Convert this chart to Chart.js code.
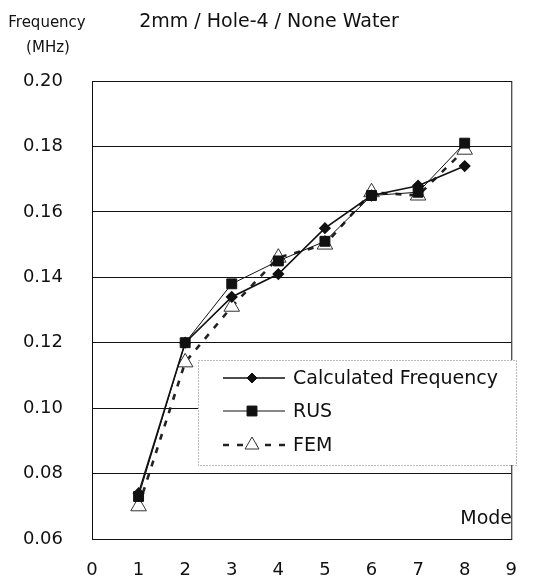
<!DOCTYPE html>
<html>
<head>
<meta charset="utf-8">
<script src="https://cdn.jsdelivr.net/npm/chart.js@4.4.0/dist/chart.umd.min.js"></script>
<style>
  html, body { margin: 0; padding: 0; background: #fff; }
  canvas { display: block; }
</style>
</head>
<body>
<canvas id="chart" width="538" height="584"></canvas>
<script>
/* ── data ─────────────────────────────────────────────── */
const modes      = [1, 2, 3, 4, 5, 6, 7, 8];
const calculated = [0.074, 0.120, 0.134, 0.141, 0.155, 0.165, 0.168, 0.174];
const rus        = [0.073, 0.120, 0.138, 0.145, 0.151, 0.165, 0.166, 0.181];
const fem        = [0.070, 0.114, 0.131, 0.146, 0.150, 0.166, 0.165, 0.179];
const yTicks     = [0.06, 0.08, 0.10, 0.12, 0.14, 0.16, 0.18, 0.20];
const xTicks     = [0, 1, 2, 3, 4, 5, 6, 7, 8, 9];

const FONT = '"DejaVu Sans", sans-serif';
const INK  = '#111';

const toPoints = vals => vals.map((v, i) => ({ x: modes[i], y: v }));

/* ── plot frame + free text ─────────────────────────────── */
const framePlugin = {
  id: 'frame',
  afterDraw(chart) {
    const { ctx, chartArea: a } = chart;
    ctx.save();
    ctx.strokeStyle = INK;
    ctx.lineWidth = 1;
    ctx.strokeRect(a.left + 0.5, a.top + 0.5, a.right - a.left, a.bottom - a.top);

    ctx.fillStyle = INK;
    ctx.textBaseline = 'middle';
    ctx.textAlign = 'center';
    ctx.font = `15px ${FONT}`;
    ctx.fillText('Frequency', 47, 23);
    ctx.fillText('(MHz)', 48, 48);
    ctx.font = `19px ${FONT}`;
    ctx.fillText('2mm / Hole-4 / None Water', 269, 22);
    ctx.textAlign = 'right';
    ctx.fillText('Mode', 512, 519);
    ctx.restore();
  },
};

/* ── legend box inside plot ─────────────────────────────── */
const legendPlugin = {
  id: 'boxLegend',
  afterDraw(chart) {
    const { ctx } = chart;
    const box = { x: 198, y: 360, w: 318, h: 105 };
    const rows = [378, 411, 445];
    ctx.save();
    ctx.fillStyle = '#fff';
    ctx.fillRect(box.x, box.y, box.w, box.h);
    ctx.setLineDash([1, 2]);
    ctx.strokeStyle = '#777';
    ctx.lineWidth = 1;
    ctx.strokeRect(box.x + 0.5, box.y + 0.5, box.w, box.h);

    chart.data.datasets.forEach((ds, i) => {
      const y = rows[i];
      ctx.strokeStyle = ds.borderColor;
      ctx.lineWidth = ds.borderWidth;
      ctx.setLineDash(ds.borderDash || []);
      ctx.beginPath();
      ctx.moveTo(223, y);
      ctx.lineTo(285, y);
      ctx.stroke();
      ctx.setLineDash([]);
      ctx.fillStyle = ds.pointBackgroundColor;
      ctx.strokeStyle = ds.pointBorderColor;
      ctx.lineWidth = 1;
      Chart.helpers.drawPoint(ctx, {
        pointStyle: ds.pointStyle,
        radius: ds.legendRadius,
        borderWidth: 1,
        rotation: 0,
      }, 252, y);

      ctx.fillStyle = INK;
      ctx.font = `19px ${FONT}`;
      ctx.textAlign = 'left';
      ctx.textBaseline = 'middle';
      ctx.fillText(ds.label, 293, y + 1);
    });
    ctx.restore();
  },
};

new Chart(document.getElementById('chart'), {
  type: 'line',
  data: {
    datasets: [
      {
        label: 'Calculated Frequency',
        data: toPoints(calculated),
        borderColor: INK,
        borderWidth: 1.6,
        pointStyle: 'rectRot',
        pointRadius: 5,
        legendRadius: 5,
        pointBackgroundColor: INK,
        pointBorderColor: INK,
        tension: 0,
      },
      {
        label: 'RUS',
        data: toPoints(rus),
        borderColor: INK,
        borderWidth: 1,
        pointStyle: 'rect',
        pointRadius: 7,
        legendRadius: 7,
        pointBackgroundColor: INK,
        pointBorderColor: INK,
        tension: 0,
      },
      {
        label: 'FEM',
        data: toPoints(fem),
        borderColor: '#222',
        borderWidth: 2.6,
        borderDash: [6, 8],
        pointStyle: 'triangle',
        pointRadius: 9,
        legendRadius: 8,
        pointBorderWidth: 1,
        pointBackgroundColor: '#fff',
        pointBorderColor: '#333',
        tension: 0,
      },
    ],
  },
  options: {
    responsive: false,
    devicePixelRatio: 1,
    animation: false,
    layout: { padding: { top: 81, right: 22, left: 0, bottom: 0 } },
    plugins: {
      legend: { display: false },
      title: { display: false },
      tooltip: { enabled: false },
    },
    scales: {
      x: {
        type: 'linear',
        min: 0,
        max: 9,
        afterFit: s => { s.height = 45; },
        afterBuildTicks: s => { s.ticks = xTicks.map(v => ({ value: v })); },
        grid: { display: false, drawTicks: false },
        border: { display: false },
        ticks: { color: INK, padding: 21, font: { family: FONT, size: 18 } },
      },
      y: {
        min: 0.06,
        max: 0.20,
        afterFit: s => { s.width = 92; },
        afterBuildTicks: s => { s.ticks = yTicks.map(v => ({ value: v })); },
        grid: { color: INK, lineWidth: 1, drawTicks: false },
        border: { display: false },
        ticks: {
          color: INK,
          padding: 29,
          font: { family: FONT, size: 18 },
          callback: v => v.toFixed(2),
        },
      },
    },
  },
  plugins: [framePlugin, legendPlugin],
});
</script>
</body>
</html>
